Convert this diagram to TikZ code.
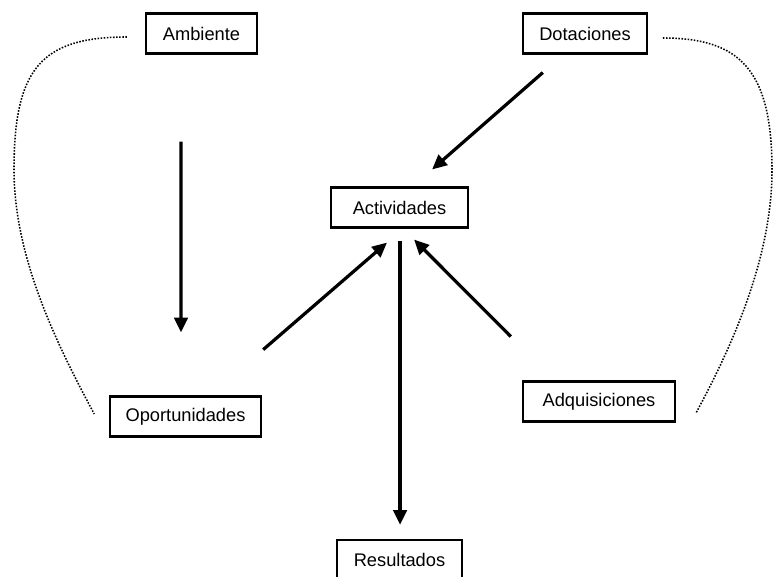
\documentclass[tikz,border=0pt]{standalone}
\usepackage{fontspec}
\setmainfont{Liberation Sans}
\usetikzlibrary{arrows.meta,calc}

\tikzset{
  caja/.style={rectangle, draw=black, line width=1.5pt, fill=white, minimum height=28.5pt, inner xsep=0pt, font=\fontsize{13pt}{15pt}\selectfont},
  flecha/.style={-{Triangle[length=10.5pt,width=9.5pt]}, line width=2.3pt},
  punteado/.style={line width=1.1pt, dash pattern=on 1.1pt off 1.1pt}
}

\begin{document}
\begin{tikzpicture}[x=0.025cm, y=-0.025cm]
\useasboundingbox (0,0) rectangle (774,577);

\node[caja, minimum width=79pt] (ambiente) at (201.5,33.5) {Ambiente};
\node[caja, minimum width=88pt] (dotaciones) at (585,33.5) {Dotaciones};
\node[caja, minimum width=97.5pt] (actividades) at (399.5,207.5) {Actividades};
\node[caja, minimum width=107pt] (oportunidades) at (185.5,416.5) {Oportunidades};
\node[caja, minimum width=108pt] (adquisiciones) at (599,401.5) {Adquisiciones};
\node[caja, minimum width=89pt] (resultados) at (399.5,560) {Resultados};

% flechas
\draw[flecha, shorten <=61.9pt, shorten >=44.8pt] ([xshift=-14.6pt]ambiente.south) -- ([xshift=-3.2pt]oportunidades.north);
\draw[flecha, shorten <=19.4pt, shorten >=18.3pt] ([xshift=-15.4pt]dotaciones.south) -- ([xshift=9.4pt]actividades.north);
\draw[flecha, shorten <=49.8pt, shorten >=15.2pt] ([xshift=17.6pt]oportunidades.north) -- ([xshift=2.6pt]actividades.south);
\draw[flecha, shorten <=44pt, shorten >=11pt] ([xshift=-31.6pt]adquisiciones.north) -- ([xshift=2.6pt]actividades.south);
\draw[flecha, shorten <=8.5pt, shorten >=10pt] ([xshift=0.4pt]actividades.south) -- ([xshift=0.4pt]resultados.north);

% curvas punteadas
\draw[punteado] ($(ambiente.west)+(-18,3.5)$) .. controls (40,37) and (14,70) .. (14,170)
  .. controls (14,260) and (60,350) .. ($(oportunidades.west)+(-15,-2.5)$);
\draw[punteado] ($(dotaciones.east)+(15,4.5)$) .. controls (740,38) and (772,70) .. (772,170)
  .. controls (772,260) and (730,350) .. ($(adquisiciones.east)+(20,11.5)$);

\end{tikzpicture}
\end{document}
